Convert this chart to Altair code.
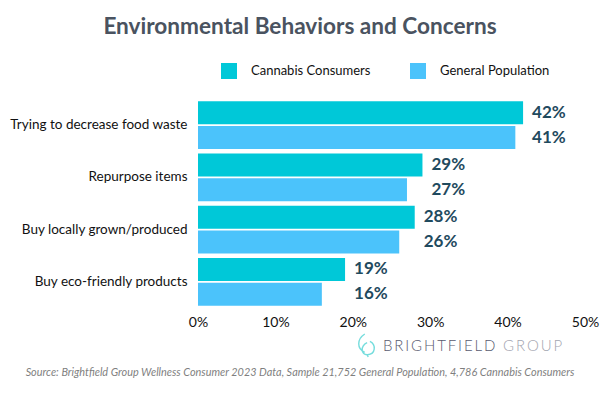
import altair as alt
import pandas as pd

categories = ["Trying to decrease food waste", "Repurpose items",
              "Buy locally grown/produced", "Buy eco-friendly products"]
series = ["Cannabis Consumers", "General Population"]
cannabis = [42, 29, 28, 19]
general = [41, 27, 26, 16]
x_ticks = [0, 10, 20, 30, 40, 50]
colors = ["#00C8D8", "#4BC3FB"]

title_text = "Environmental Behaviors and Concerns"
source_text = ("Source: Brightfield Group Wellness Consumer 2023 Data, Sample 21,752 "
               "General Population, 4,786 Cannabis Consumers")

rows = []
for c, a, b in zip(categories, cannabis, general):
    rows.append({"category": c, "series": series[0], "value": a})
    rows.append({"category": c, "series": series[1], "value": b})
df = pd.DataFrame(rows)

FONT = "Lato"
SP = "\u2009"

y_enc = alt.Y("category:N", sort=categories,
              scale=alt.Scale(paddingInner=0.09, paddingOuter=0.045),
              axis=alt.Axis(title=None, ticks=False, domain=False, grid=False,
                            labelFontSize=13.5, labelColor="#111111",
                            labelPadding=11, labelFont=FONT, labelLimit=300))
yoff = alt.YOffset("series:N", sort=series, scale=alt.Scale(paddingInner=0.08))

base = alt.Chart(df)

bars = base.mark_bar().encode(
    x=alt.X("value:Q", scale=alt.Scale(domain=[0, 50], nice=False),
            axis=alt.Axis(title=None, values=x_ticks, grid=False, ticks=False,
                          tickSize=0, domain=False, labelExpr="datum.value + '%'",
                          labelFontSize=14, labelColor="#111111", labelFlush=False,
                          labelPadding=7, labelFont=FONT)),
    y=y_enc,
    yOffset=yoff,
    color=alt.Color("series:N", sort=series,
                    scale=alt.Scale(domain=series, range=colors),
                    legend=alt.Legend(title=None, orient="none", direction="horizontal",
                                      legendX=23, legendY=-36,
                                      symbolType="square", symbolSize=256,
                                      symbolStrokeWidth=0, symbolOpacity=1,
                                      labelFontSize=13, labelColor="#111111",
                                      labelFont=FONT, labelOffset=14,
                                      columnPadding=39, padding=0)),
)

labels = base.transform_joinaggregate(
    gmax="max(value)", groupby=["category"]
).transform_calculate(
    label="datum.value + '%'"
).mark_text(align="left", baseline="middle", dx=9, fontSize=17,
            fontWeight="bold", font=FONT, color="#1f4a5e").encode(
    x="gmax:Q",
    y=alt.Y("category:N", sort=categories),
    yOffset=alt.YOffset("series:N", sort=series),
    text="label:N",
)

one = alt.Data(values=[{"k": 1}])

title = alt.Chart(one).mark_text(
    text=title_text, align="center", baseline="alphabetic",
    fontSize=22.6, fontWeight="bold", font=FONT, color="#4a5360"
).encode(x=alt.value(102), y=alt.value(-65))

brand1 = alt.Chart(one).mark_text(
    text=SP.join("BRIGHTFIELD"),
    align="left", baseline="alphabetic", fontSize=15, font=FONT,
    fontWeight=300, color="#585b6f"
).encode(x=alt.value(185), y=alt.value(252))

brand2 = alt.Chart(one).mark_text(
    text=SP.join("GROUP"),
    align="left", baseline="alphabetic", fontSize=15, font=FONT,
    fontWeight=300, color="#a3a5b0"
).encode(x=alt.value(305), y=alt.value(252))

icon_path = ("M -0.15 -1 C -0.85 -0.55 -0.85 0.3 -0.15 0.6 "
             "M 0.3 -0.35 C 0.85 -0.05 0.8 0.75 0.1 0.8 "
             "C -0.5 0.85 -0.55 0.05 0.05 -0.25 M 0.05 0.8 L 0.15 1")
icon = alt.Chart(one).mark_point(
    shape=icon_path, filled=False, size=529, stroke="#3ccfcf", strokeWidth=1.4
).encode(x=alt.value(168.5), y=alt.value(246.5))

source = alt.Chart(one).mark_text(
    text=source_text, align="center", baseline="alphabetic",
    fontSize=10.9, font=FONT, fontStyle="italic", color="#7f7f7f"
).encode(x=alt.value(102), y=alt.value(277))

chart = alt.layer(bars, labels, title, brand1, brand2, icon, source).properties(
    width=387, height=209,
    autosize=alt.AutoSizeParams(type="none"),
    padding={"left": 198, "top": 99, "right": 15, "bottom": 92},
    background="white",
).configure(font=FONT).configure_view(stroke=None)

chart.save("out.html", embed_options={"renderer": "svg", "actions": False})
